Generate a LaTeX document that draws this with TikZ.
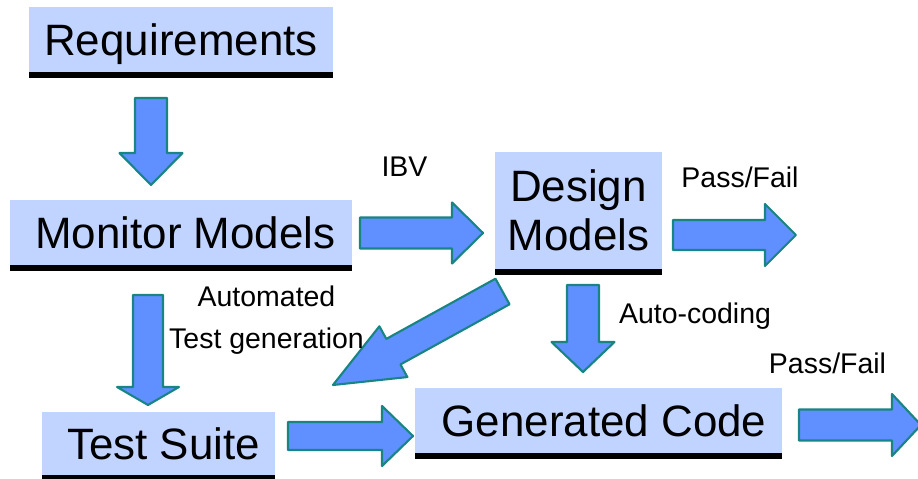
\documentclass[tikz,border=0pt]{standalone}
\usepackage{fontspec}
\setmainfont{Liberation Sans}
\usetikzlibrary{calc}
\usepackage{xcolor}

\definecolor{boxblue}{RGB}{193,211,255}
\definecolor{arrowfill}{RGB}{96,143,255}
\definecolor{arrowedge}{RGB}{24,132,132}

% block arrow: start, tip, half shaft, half head, head length (all in px)
\newcommand{\fatarrow}[5]{%
  \coordinate (fa-b) at ($(#2)!{#5*0.02cm}!(#1)$);
  \draw[fat] ($(#1)!{#3*0.02cm}!90:(#2)$) -- ($(fa-b)!{#3*0.02cm}!90:(#2)$)
    -- ($(fa-b)!{#4*0.02cm}!90:(#2)$) -- (#2)
    -- ($(fa-b)!{#4*0.02cm}!-90:(#2)$) -- ($(fa-b)!{#3*0.02cm}!-90:(#2)$)
    -- ($(#1)!{#3*0.02cm}!-90:(#2)$) -- cycle;
}

\begin{document}
\begin{tikzpicture}[x=0.02cm, y=-0.02cm,
    stage/.style={fill=boxblue, inner sep=0pt, outer sep=0pt, text depth=0pt,
      font=\fontsize{25}{27.8}\selectfont},
    tag/.style={anchor=base, inner sep=0pt, font=\fontsize{16.2}{18}\selectfont},
    fat/.style={fill=arrowfill, draw=arrowedge, line width=1.2pt, line join=round}]
        \useasboundingbox (0,0) rectangle (918,479);

        % the stages (a little left padding where the text sits off centre)
        \node[stage, minimum width=6.08cm, minimum height=1.30cm] (req) at (181, 39.5) {Requirements};
        \node[stage, minimum width=6.84cm, minimum height=1.30cm] (mon) at (181, 232.5) {\hspace*{0.18cm}Monitor Models};
        \node[stage, minimum width=3.34cm, minimum height=2.34cm, align=center] (des) at (578.5, 210.5) {Design\\Models};
        \node[stage, minimum width=4.66cm, minimum height=1.26cm] (ts) at (158.5, 443.5) {\hspace*{0.2cm}Test Suite};
        \node[stage, minimum width=7.34cm, minimum height=1.30cm] (gen) at (598.5, 420.5) {\hspace*{0.22cm}Generated Code};

        % black rule under every stage
        \foreach \n in {req, mon, des, ts, gen}
            \fill[black] (\n.south west) rectangle ($(\n.south east)+(0,6.5)$);

        % arrow ends
        \coordinate (a1s) at ($(req.south)+(-30,26)$);
        \coordinate (a1e) at ($(mon.north)+(-30,-15)$);
        \coordinate (a2s) at ($(mon.east)+(8,0.5)$);
        \coordinate (a2e) at ($(des.west)+(-12,22.5)$);
        \coordinate (a3s) at ($(des.east)+(11,24.5)$);
        \coordinate (pf1) at ($(des.east)+(134,24.5)$);
        \coordinate (a4s) at ($(mon.south)+(-33,30)$);
        \coordinate (a4e) at ($(ts.north)+(-10.5,-7)$);
        \coordinate (a5s) at ($(des.south)+(-76,22.5)$);
        \coordinate (a5e) at ($(ts.north east)+(58,-27)$);
        \coordinate (a6s) at ($(des.south)+(4.5,16)$);
        \coordinate (a6e) at ($(gen.north)+(-15.5,-16)$);
        \coordinate (a7s) at ($(ts.east)+(13,-7.5)$);
        \coordinate (a7e) at ($(gen.west)+(-2,15.5)$);
        \coordinate (a8s) at ($(gen.east)+(17,4.5)$);
        \coordinate (pf2) at ($(gen.east)+(139,4.5)$);

        \fatarrow{a1s}{a1e}{16}{31.5}{32}
        \fatarrow{a2s}{a2e}{15.5}{30.5}{31}
        \fatarrow{a3s}{pf1}{15}{31}{31}
        \fatarrow{a4s}{a4e}{15}{31}{18}
        \fatarrow{a5s}{a5e}{14.6}{29}{69}
        \fatarrow{a6s}{a6e}{16}{31.5}{30}
        \fatarrow{a7s}{a7e}{14}{30}{31}
        \fatarrow{a8s}{pf2}{15.5}{31}{29}

        % labels
        \node[tag] (ibv) at (404.5, 177) {IBV};
        \node[tag] (pass1) at (740, 188) {Pass/Fail};
        \node[tag] (auto) at (266.5, 306) {Automated};
        \node[tag] (testgen) at (266.5, 348) {Test generation};
        \node[tag] (autocode) at (695, 323) {Auto-coding};
        \node[tag] (pass2) at (827.5, 373) {Pass/Fail};

\end{tikzpicture}
\end{document}
